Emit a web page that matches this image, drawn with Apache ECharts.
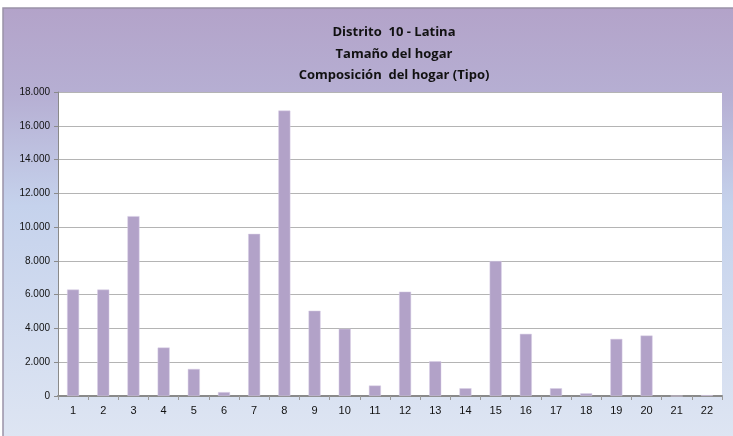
<!DOCTYPE html>
<html><head><meta charset="utf-8">
<script src="https://cdn.jsdelivr.net/npm/echarts@6/dist/echarts.min.js"></script>
<style>html,body{margin:0;padding:0;background:#fff}#c{width:733px;height:436px}</style>
</head><body><div id="c"></div>
<script>
const categories = ['1','2','3','4','5','6','7','8','9','10','11','12','13','14','15','16','17','18','19','20','21','22'];
const values = [6300,6300,10650,2870,1600,230,9600,16900,5050,3980,620,6180,2060,460,7990,3680,460,160,3380,3580,0,50];
const titleLines = ['Distrito  10 - Latina','Tamaño del hogar','Composición  del hogar (Tipo)'];

const chart = echarts.init(document.getElementById('c'));
chart.setOption({
  animation:false,
  graphic:[{
    type:'rect', z:-10, silent:true,
    shape:{x:3,y:8,width:740,height:440},
    style:{
      fill:{type:'linear',x:0,y:0,x2:0,y2:1,colorStops:[
        {offset:0,color:'#b3a3c9'},
        {offset:0.2,color:'#b6afd3'},
        {offset:0.45,color:'#c5d2ec'},
        {offset:1,color:'#dfe6f3'}]},
      stroke:'#9a93a8', lineWidth:1.5
    }
  }],
  title:{
    text:titleLines.join('\n'),
    left:389, top:17, textAlign:'center',
    textStyle:{fontFamily:'Open Sans',fontWeight:'bold',fontSize:13,lineHeight:21.5,color:'#111'}
  },
  grid:{left:58,top:92,width:664,height:304,containLabel:false,show:true,backgroundColor:'#fff',borderWidth:0},
  xAxis:{
    type:'category', data:categories,
    axisLine:{lineStyle:{color:'#8a8a8a',width:2}},
    axisTick:{show:true,length:4,lineStyle:{color:'#9a9a9a'}},
    axisLabel:{color:'#111',fontFamily:'Liberation Sans',fontSize:11,margin:9}
  },
  yAxis:{
    type:'value', min:0, max:18000, interval:2000,
    axisLine:{show:true,lineStyle:{color:'#8a8a8a',width:1}},
    axisTick:{show:true,length:4,lineStyle:{color:'#8a8a8a'}},
    splitLine:{lineStyle:{color:'#b4b4b4',width:1}},
    axisLabel:{color:'#111',fontFamily:'Liberation Sans',fontSize:10,margin:8,
      formatter:v=>v===0?'0':v.toLocaleString('de-DE')}
  },
  series:[{
    type:'bar', data:values, barWidth:12,
    itemStyle:{color:'#b2a2c8',borderColor:'#d8cfe6',borderWidth:0.5}
  }]
});
</script></body></html>
